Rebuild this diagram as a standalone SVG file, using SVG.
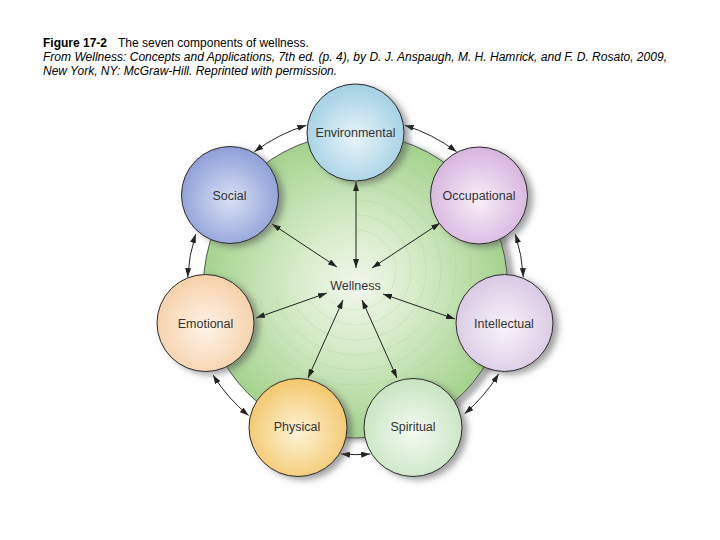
<svg xmlns="http://www.w3.org/2000/svg" width="720" height="540" viewBox="0 0 720 540">
<style>
.cap{font-family:"Liberation Sans",Arial,sans-serif;font-size:12px;fill:#000}
.lbl{font-family:"Liberation Sans",Arial,sans-serif;font-size:12.5px;fill:#333;text-anchor:middle}
.node{stroke:#2a2a2a;stroke-width:1}
.conn{fill:none;stroke:#222;stroke-width:1;marker-start:url(#ah);marker-end:url(#ah)}
.ring{fill:none;stroke:#a9cf98;stroke-width:0.6;stroke-opacity:0.5}
</style>
<defs>
<marker id="ah" viewBox="0 0 9 6" refX="9" refY="3" markerWidth="9" markerHeight="6" markerUnits="userSpaceOnUse" orient="auto-start-reverse">
<path d="M0,0 L9,3 L0,6 z" fill="#222"/>
</marker>
<filter id="sh" x="-30%" y="-30%" width="160%" height="160%">
<feDropShadow dx="5" dy="3" stdDeviation="3" flood-color="#555" flood-opacity="0.55"/>
</filter>
<filter id="shg" x="-10%" y="-10%" width="120%" height="120%">
<feDropShadow dx="7" dy="3" stdDeviation="2.5" flood-color="#777" flood-opacity="0.6"/>
</filter>
<radialGradient id="gW" cx="50%" cy="50%" r="55%">
<stop offset="0" stop-color="#f0f7ec"/>
<stop offset="0.35" stop-color="#d8ecca"/>
<stop offset="1" stop-color="#9ccf84"/>
</radialGradient>
<radialGradient id="gEnv" cx="50%" cy="55%" r="55%"><stop offset="0" stop-color="#e8f4f9"/><stop offset="1" stop-color="#a2d0e3"/></radialGradient>
<radialGradient id="gSoc" cx="50%" cy="55%" r="55%"><stop offset="0" stop-color="#d9e0f4"/><stop offset="1" stop-color="#8d9ed8"/></radialGradient>
<radialGradient id="gOcc" cx="50%" cy="55%" r="55%"><stop offset="0" stop-color="#f8eef8"/><stop offset="1" stop-color="#d6b4de"/></radialGradient>
<radialGradient id="gEmo" cx="50%" cy="55%" r="55%"><stop offset="0" stop-color="#fdf3e8"/><stop offset="1" stop-color="#f6d0a8"/></radialGradient>
<radialGradient id="gInt" cx="50%" cy="55%" r="55%"><stop offset="0" stop-color="#f8f3f9"/><stop offset="1" stop-color="#d9c8e4"/></radialGradient>
<radialGradient id="gPhy" cx="50%" cy="55%" r="55%"><stop offset="0" stop-color="#fdf3d6"/><stop offset="1" stop-color="#f3c76c"/></radialGradient>
<radialGradient id="gSpi" cx="50%" cy="55%" r="55%"><stop offset="0" stop-color="#f4faf2"/><stop offset="1" stop-color="#c8e4c1"/></radialGradient>
<clipPath id="clipR"><path d="M356,140 L520,140 L520,440 L200,440 L200,300 L356,300 z"/></clipPath>
</defs>

<g id="caption">
<text class="cap" x="43" y="47"><tspan font-weight="bold">Figure 17-2</tspan><tspan x="118">The seven components of wellness.</tspan></text>
<text class="cap" x="43" y="61" font-style="italic" textLength="624" lengthAdjust="spacingAndGlyphs">From Wellness: Concepts and Applications, 7th ed. (p. 4), by D. J. Anspaugh, M. H. Hamrick, and F. D. Rosato, 2009,</text>
<text class="cap" x="43" y="75" font-style="italic">New York, NY: McGraw-Hill. Reprinted with permission.</text>
</g>

<g id="wellness">
<circle cx="355.5" cy="286" r="152" fill="url(#gW)" stroke="#333" stroke-width="0.8" filter="url(#shg)"/>
<g clip-path="url(#clipR)">
<circle class="ring" cx="356" cy="270" r="40"/>
<circle class="ring" cx="356" cy="270" r="55"/>
<circle class="ring" cx="356" cy="270" r="70"/>
<circle class="ring" cx="356" cy="270" r="85"/>
<circle class="ring" cx="356" cy="270" r="100"/>
<circle class="ring" cx="356" cy="270" r="115"/>
</g>
<text class="lbl" x="355.5" y="290">Wellness</text>
</g>

<g id="connectors">
<line class="conn" x1="356" y1="182" x2="356" y2="268"/>
<line class="conn" x1="272" y1="224" x2="337" y2="267"/>
<line class="conn" x1="440" y1="223" x2="372" y2="268"/>
<line class="conn" x1="256" y1="318" x2="327" y2="293"/>
<line class="conn" x1="455" y1="319" x2="383" y2="294"/>
<line class="conn" x1="308" y1="378" x2="343" y2="300"/>
<line class="conn" x1="397" y1="378" x2="362" y2="300"/>
<path class="conn" d="M254.4,151.8 A168,168 0 0 1 306.4,125.3"/>
<path class="conn" d="M404.6,125.3 A168,168 0 0 1 456.6,151.8"/>
<path class="conn" d="M187.7,277.2 A168,168 0 0 1 195.7,234.1"/>
<path class="conn" d="M515.3,234.1 A168,168 0 0 1 523.3,277.2"/>
<path class="conn" d="M248.6,415.6 A168,168 0 0 1 213.0,375.0"/>
<path class="conn" d="M370.1,454 A168,168 0 0 1 340.9,454"/>
<path class="conn" d="M498.7,373.8 A168,168 0 0 1 464.6,413.7"/>
</g>

<g id="environmental">
<circle class="node" cx="355.5" cy="132.5" r="48.5" fill="url(#gEnv)" filter="url(#sh)"/>
<text class="lbl" x="355.5" y="137">Environmental</text>
</g>
<g id="social">
<circle class="node" cx="230" cy="195" r="48.5" fill="url(#gSoc)" filter="url(#sh)"/>
<text class="lbl" x="229.5" y="200">Social</text>
</g>
<g id="occupational">
<circle class="node" cx="479" cy="195.5" r="48.5" fill="url(#gOcc)" filter="url(#sh)"/>
<text class="lbl" x="479" y="200">Occupational</text>
</g>
<g id="emotional">
<circle class="node" cx="205.5" cy="323" r="48.5" fill="url(#gEmo)" filter="url(#sh)"/>
<text class="lbl" x="205.5" y="328">Emotional</text>
</g>
<g id="intellectual">
<circle class="node" cx="504.5" cy="323" r="48.5" fill="url(#gInt)" filter="url(#sh)"/>
<text class="lbl" x="504" y="328">Intellectual</text>
</g>
<g id="physical">
<circle class="node" cx="298" cy="427.5" r="49" fill="url(#gPhy)" filter="url(#sh)"/>
<text class="lbl" x="297" y="431">Physical</text>
</g>
<g id="spiritual">
<circle class="node" cx="413" cy="427.5" r="49" fill="url(#gSpi)" filter="url(#sh)"/>
<text class="lbl" x="413" y="431">Spiritual</text>
</g>
</svg>
